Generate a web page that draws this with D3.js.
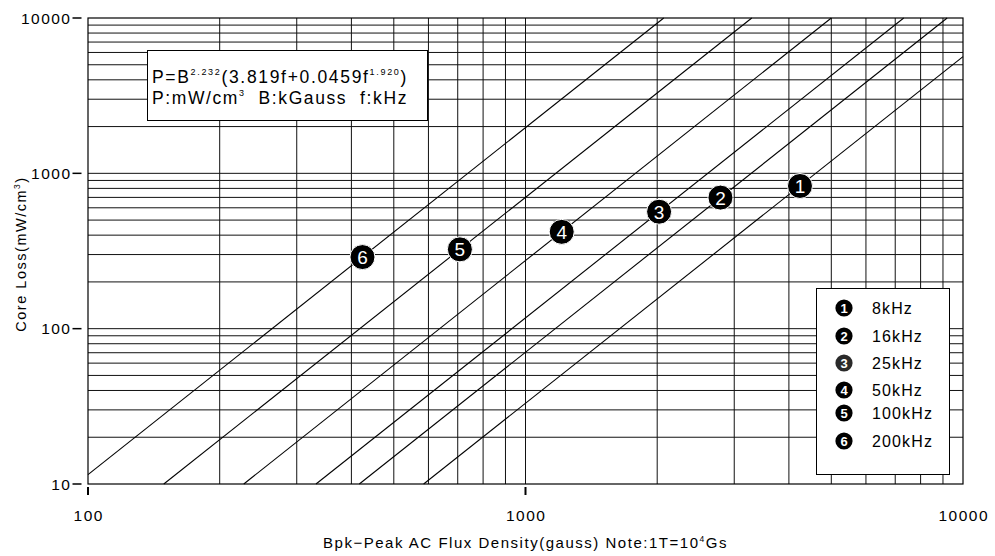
<!DOCTYPE html>
<html>
<head>
<meta charset="utf-8">
<script src="https://cdn.jsdelivr.net/npm/d3@7"></script>
<style>
  html, body { margin: 0; padding: 0; background: #fff; }
  svg { display: block; font-family: "Liberation Sans", Arial, sans-serif; }
</style>
</head>
<body>
<svg id="chart"></svg>
<script>
// Series (B in gauss, P in mW/cm3)
const freqLabels = ["8kHz", "16kHz", "25kHz", "50kHz", "100kHz", "200kHz"];
const lineStartB = [585, 417, 332, 227, 149, 100];
const lineStartP = [10, 10, 10, 10, 10, 11.5];
const lineEndB = [10000, 9200, 7320, 5000, 3290, 2070];
const lineEndP = [5640, 10000, 10000, 10000, 10000, 10000];
const markerB = [4240, 2790, 2020, 1210, 708, 424];
const markerP = [829, 698, 566, 420, 324, 289];
const xTicks = [100, 1000, 10000];
const yTicks = [10, 100, 1000, 10000];

const W = 995, H = 556;
const margin = { top: 18, right: 32, bottom: 72, left: 88 };
const width = W - margin.left - margin.right;
const height = H - margin.top - margin.bottom;

const svg = d3.select("#chart").attr("width", W).attr("height", H);
const g = svg.append("g").attr("transform", `translate(${margin.left},${margin.top})`);

const x = d3.scaleLog().domain([100, 10000]).range([0, width]);
const y = d3.scaleLog().domain([10, 10000]).range([height, 0]);

// spread the glyphs of a text element so it spans the given width
function fit(sel, target) {
  const node = sel.node();
  const ls = (target - node.getComputedTextLength()) / node.getNumberOfChars();
  sel.attr("letter-spacing", ls);
  return ls;
}

// grid: every 1..9 step of each decade
const xGrid = x.ticks(20).filter(v => v > 100 && v < 10000);
const yGrid = y.ticks(30).filter(v => v > 10 && v < 10000);

g.append("g").selectAll("line").data(xGrid).join("line")
  .attr("x1", d => x(d)).attr("x2", d => x(d))
  .attr("y1", 0).attr("y2", height)
  .attr("stroke", "#111").attr("stroke-width", 1);

g.append("g").selectAll("line").data(yGrid).join("line")
  .attr("x1", 0).attr("x2", width)
  .attr("y1", d => y(d)).attr("y2", d => y(d))
  .attr("stroke", "#111").attr("stroke-width", 1);

// frame
g.append("rect").attr("x", 0).attr("y", 0).attr("width", width).attr("height", height)
  .attr("fill", "none").attr("stroke", "#000").attr("stroke-width", 1.2);

// loss lines
g.append("g").selectAll("line").data(freqLabels).join("line")
  .attr("x1", (d, i) => x(lineStartB[i])).attr("y1", (d, i) => y(lineStartP[i]))
  .attr("x2", (d, i) => x(lineEndB[i])).attr("y2", (d, i) => y(lineEndP[i]))
  .attr("stroke", "#000").attr("stroke-width", 1.1);

// x ticks (below axis, detached)
g.append("g").selectAll("line").data(xTicks.slice(0, 2)).join("line")
  .attr("x1", d => x(d)).attr("x2", d => x(d))
  .attr("y1", height + 3).attr("y2", height + 11)
  .attr("stroke", "#000").attr("stroke-width", 2);
const digitLs = 1.5;
g.append("g").selectAll("text").data(xTicks).join("text")
  .attr("x", d => x(d) + digitLs / 2).attr("y", height + 37)
  .attr("text-anchor", "middle").attr("font-size", 15.5)
  .attr("letter-spacing", digitLs).text(d => d);

// y ticks: label followed by a dash
g.append("g").selectAll("line").data(yTicks).join("line")
  .attr("x1", -15.5).attr("x2", -6.5)
  .attr("y1", d => y(d)).attr("y2", d => y(d))
  .attr("stroke", "#000").attr("stroke-width", 1.5);
g.append("g").selectAll("text").data(yTicks).join("text")
  .attr("x", -18 + digitLs).attr("y", d => y(d) + 5.5)
  .attr("text-anchor", "end").attr("font-size", 15.5)
  .attr("letter-spacing", digitLs).text(d => d);

// axis titles
const xt = svg.append("text")
  .attr("x", margin.left + width / 2).attr("y", 548)
  .attr("text-anchor", "middle").attr("font-size", 15);
xt.append("tspan").text("Bpk\u2212Peak AC Flux Density(gauss) Note:1T=10");
xt.append("tspan").attr("font-size", 8.5).attr("dy", -6).text("4");
xt.append("tspan").attr("dy", 6).text("Gs");
const titleLs = fit(xt, 405);

const yt = svg.append("text")
  .attr("transform", `translate(26,${margin.top + height / 2 + 3}) rotate(-90)`)
  .attr("text-anchor", "middle").attr("font-size", 14.5).attr("letter-spacing", titleLs);
yt.append("tspan").text("Core Loss(mW/cm");
yt.append("tspan").attr("font-size", 8.5).attr("dy", -6).text("3");
yt.append("tspan").attr("dy", 6).text(")");

// formula box
svg.append("rect").attr("x", 147.5).attr("y", 50.5).attr("width", 280).attr("height", 70)
  .attr("fill", "#fff").attr("stroke", "#000").attr("stroke-width", 1);
const f1 = svg.append("text").attr("x", 152).attr("y", 82.5).attr("font-size", 17.5);
f1.append("tspan").text("P=B");
f1.append("tspan").attr("font-size", 9).attr("dy", -8).text("2.232");
f1.append("tspan").attr("dy", 8).text("(3.819f+0.0459f");
f1.append("tspan").attr("font-size", 9).attr("dy", -8).text("1.920");
f1.append("tspan").attr("dy", 8).text(")");
fit(f1, 256);
const f2 = svg.append("text").attr("x", 152).attr("y", 104).attr("font-size", 17.5)
  .style("white-space", "pre");
f2.append("tspan").text("P:mW/cm");
f2.append("tspan").attr("font-size", 9).attr("dy", -8).text("3");
f2.append("tspan").attr("dy", 8).text("  B:kGauss  f:kHz");
fit(f2, 256);

// numbered markers on the lines
const mk = g.append("g").selectAll("g").data(freqLabels).join("g")
  .attr("transform", (d, i) => `translate(${x(markerB[i])},${y(markerP[i])})`);
mk.append("circle").attr("r", 12.5).attr("fill", "#000").attr("stroke", "#fff").attr("stroke-width", 1);
mk.append("text").attr("text-anchor", "middle").attr("y", 7)
  .attr("font-size", 19).attr("fill", "#fff").text((d, i) => i + 1);

// legend
svg.append("rect").attr("x", 816.5).attr("y", 288.5).attr("width", 133).attr("height", 186)
  .attr("fill", "#fff").attr("stroke", "#000").attr("stroke-width", 1);
const legendY = [308, 336, 363, 390, 413, 441];
const lg = svg.append("g").selectAll("g").data(freqLabels).join("g")
  .attr("transform", (d, i) => `translate(844,${legendY[i]})`);
lg.append("circle").attr("r", 8.6).attr("fill", (d, i) => i === 2 ? "#2a2a2a" : "#000");
lg.append("text").attr("text-anchor", "middle").attr("y", 4.5)
  .attr("font-size", 13).attr("font-weight", "bold").attr("fill", "#fff").text((d, i) => i + 1);
const legendText = lg.append("text").attr("x", 28).attr("y", 6).attr("font-size", 16).text(d => d);
const legendLs = fit(legendText.filter((d, i) => i === 4), 61);
legendText.attr("letter-spacing", legendLs);
</script>
</body>
</html>
